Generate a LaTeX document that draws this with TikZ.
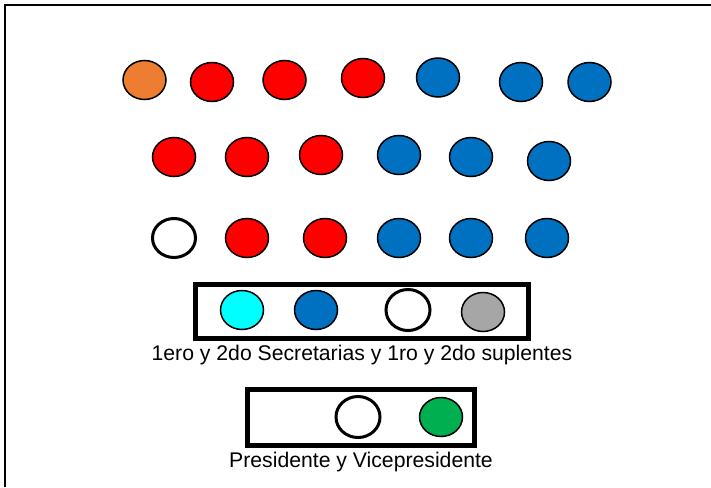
\documentclass[tikz,border=0pt]{standalone}
\usepackage{fontspec}
\setmainfont{Liberation Sans}
\usetikzlibrary{shapes.geometric}
\definecolor{rojo}{RGB}{255,0,0}
\definecolor{azul}{RGB}{0,112,192}
\definecolor{naranja}{RGB}{237,125,49}
\definecolor{celeste}{RGB}{0,255,255}
\definecolor{gris}{RGB}{166,166,166}
\definecolor{verde}{RGB}{0,176,80}
\tikzset{
    seat/.style={ellipse, draw=black, line width=1.5pt, minimum width=43pt, minimum height=39pt, inner sep=0pt},
    emptyseat/.style={seat, fill=white, line width=3pt},
    mesa/.style={draw=black, line width=5pt, inner sep=0pt},
    etiqueta/.style={font=\fontsize{21.2}{24}\selectfont, inner sep=0pt}
}
\begin{document}
\begin{tikzpicture}[x=1pt,y=-1pt]
        \useasboundingbox (0,0) rectangle (711,487);
        \draw[line width=2pt] (5,487) -- (5,5) -- (711,5);
        % fila 1
        \node[seat, fill=naranja] (a1) at (144.5,80) {};
        \node[seat, fill=rojo] (a2) at (212,82) {};
        \node[seat, fill=rojo] (a3) at (284.5,80) {};
        \node[seat, fill=rojo] (a4) at (363,78) {};
        \node[seat, fill=azul] (a5) at (438,77.5) {};
        \node[seat, fill=azul] (a6) at (521,82) {};
        \node[seat, fill=azul] (a7) at (589.5,82) {};
        % fila 2
        \node[seat, fill=rojo] (b1) at (174,157) {};
        \node[seat, fill=rojo] (b2) at (247,157) {};
        \node[seat, fill=rojo] (b3) at (321,155) {};
        \node[seat, fill=azul] (b4) at (399,155) {};
        \node[seat, fill=azul] (b5) at (471,157) {};
        \node[seat, fill=azul] (b6) at (549,161) {};
        % fila 3
        \node[emptyseat] (c1) at (174,238) {};
        \node[seat, fill=rojo] (c2) at (247,238) {};
        \node[seat, fill=rojo] (c3) at (325,238) {};
        \node[seat, fill=azul] (c4) at (399,238) {};
        \node[seat, fill=azul] (c5) at (471,238) {};
        \node[seat, fill=azul] (c6) at (547,238) {};
        % secretarias
        \node[mesa, minimum width=333pt, minimum height=54pt] (sec) at (361.5,311) {};
        \node[seat, fill=celeste] (s1) at (242,310) {};
        \node[seat, fill=azul] (s2) at (316,310) {};
        \node[emptyseat, minimum width=44pt, minimum height=41pt] (s3) at (408,310) {};
        \node[seat, fill=gris] (s4) at (483,312) {};
        \node[etiqueta] (secl) at (362,355) {1ero y 2do Secretarias y 1ro y 2do suplentes};
        % presidencia
        \node[mesa, minimum width=227pt, minimum height=56pt] (pres) at (360.5,417) {};
        \node[emptyseat, minimum width=44pt, minimum height=41pt] (p1) at (358,417) {};
        \node[seat, fill=verde] (p2) at (441,417) {};
        \node[etiqueta] (presl) at (361,462) {Presidente y Vicepresidente};
\end{tikzpicture}
\end{document}
